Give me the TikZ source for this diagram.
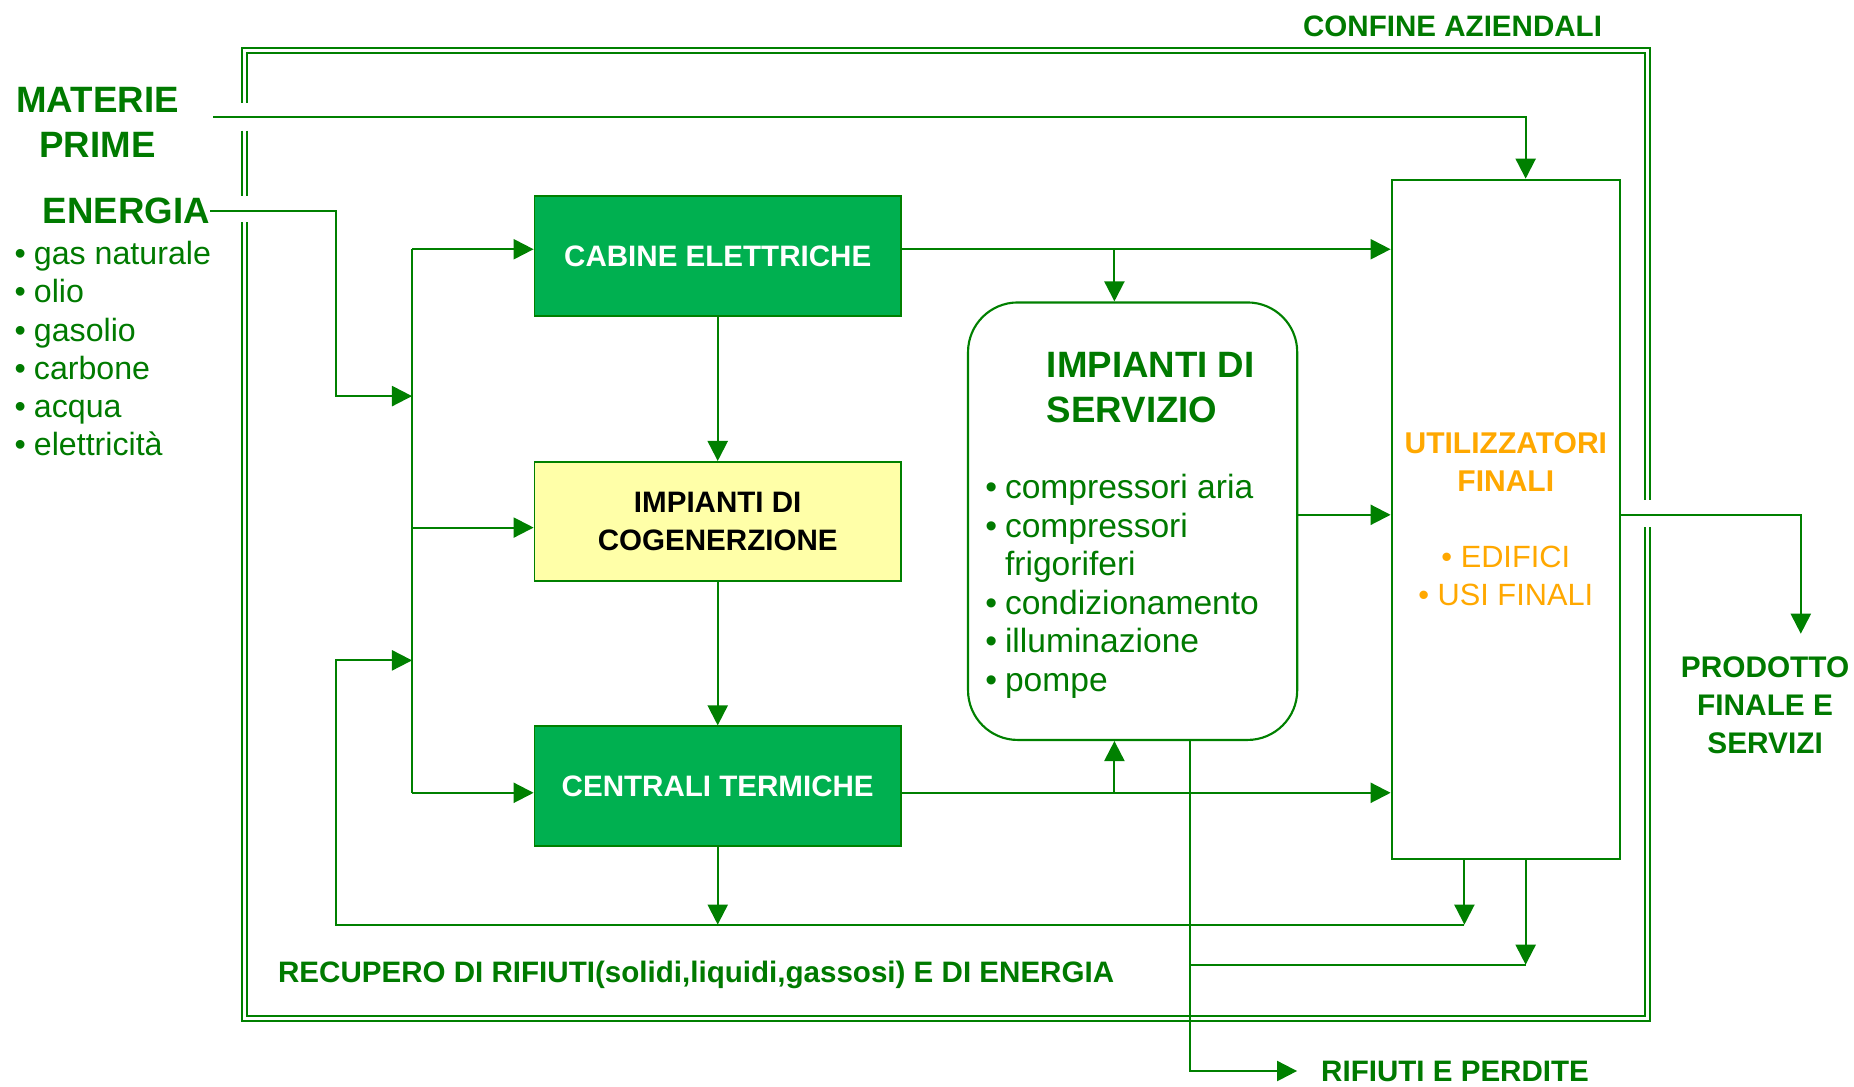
\documentclass[tikz,border=0pt]{standalone}
\usepackage{fontspec}
\setmainfont{Liberation Sans}
\usetikzlibrary{arrows.meta,calc}
\definecolor{lg}{HTML}{008000}
\definecolor{tg}{HTML}{007A00}
\definecolor{boxg}{HTML}{00B050}
\definecolor{boxy}{HTML}{FFFFA8}
\definecolor{org}{HTML}{FFA800}
\newcommand\mybul[1]{\makebox[#1][l]{\textbullet}}
\tikzset{
  ln/.style={draw=lg, line width=0.9pt},
  arr/.style={ln, -{Triangle[length=8.5pt,width=8.5pt]}},
  fr/.style={draw=lg, line width=0.8pt},
  bt/.style={text=tg, inner sep=0pt, font=\bfseries\fontsize{12.5}{16}\selectfont},
  big/.style={text=tg, inner sep=0pt, font=\bfseries\fontsize{15.5}{18.7}\selectfont},
  lst/.style={text=tg, inner sep=0pt, anchor=base west, font=\fontsize{13.6}{16}\selectfont},
  slst/.style={text=tg, inner sep=0pt, anchor=base west, font=\fontsize{14.2}{16}\selectfont},
  gbox/.style={draw=lg, line width=0.7pt, fill=boxg, text=white, minimum width=155pt, minimum height=50.6pt, inner sep=0pt, font=\bfseries\fontsize{12.5}{16}\selectfont},
  ybox/.style={draw=lg, line width=0.7pt, fill=boxy, text=black, minimum width=155pt, minimum height=50.4pt, inner sep=0pt, align=center, font=\bfseries\fontsize{12.5}{16}\selectfont},
  otxt/.style={text=org, inner sep=0pt, align=center},
}
\begin{document}
\begin{tikzpicture}[x=0.5pt,y=-0.5pt]
\useasboundingbox (0,0) rectangle (1568,919);

% frame (double line)
\draw[fr] (204.3,87) -- (204.3,40.3) -- (1395.5,40.3) -- (1395.5,423)
          (1395.5,446) -- (1395.5,863.3) -- (204.3,863.3) -- (204.3,188)
          (204.3,110.5) -- (204.3,165.8);
\draw[fr] (208.8,87) -- (208.8,44.5) -- (1391,44.5) -- (1391,423)
          (1391,446) -- (1391,859.4) -- (208.8,859.4) -- (208.8,188)
          (208.8,110.5) -- (208.8,165.8);

% labels outside
\node[bt] (conf) at (1228.5,22.5) {CONFINE AZIENDALI};
\node[big, align=center] (mat) at (82.5,103.5) {MATERIE\\PRIME};
\node[big] (ene) at (106.7,178.5) {ENERGIA};
\node[lst] (l1) at (12,224) {\mybul{8.15pt}gas naturale};
\node[lst] (l2) at (12,256.2) {\mybul{8.15pt}olio};
\node[lst] (l3) at (12,288.4) {\mybul{8.15pt}gasolio};
\node[lst] (l4) at (12,320.6) {\mybul{8.15pt}carbone};
\node[lst] (l5) at (12,352.8) {\mybul{8.15pt}acqua};
\node[lst] (l6) at (12,385) {\mybul{8.15pt}elettricità};

% boxes
\node[gbox] (cab) at (607,216.4) {CABINE ELETTRICHE};
\node[ybox] (cog) at (607,441) {IMPIANTI DI\\COGENERZIONE};
\node[gbox] (cen) at (607,664.8) {CENTRALI TERMICHE};

\node[draw=lg, line width=0.9pt, rounded corners=21pt, fill=white,
      minimum width=139.2pt, minimum height=185pt] (ser) at (957.9,440.8) {};
\node[big, anchor=west] (st1) at (885,309) {IMPIANTI DI};
\node[big, anchor=west] (st2) at (885,346.6) {SERVIZIO};
\node[slst] (s1) at (833,422) {\mybul{8.3pt}compressori aria};
\node[slst] (s2) at (833,454.5) {\mybul{8.3pt}compressori};
\node[slst] (s3) at (849.6,487) {frigoriferi};
\node[slst] (s4) at (833,519.5) {\mybul{8.3pt}condizionamento};
\node[slst] (s5) at (833,552) {\mybul{8.3pt}illuminazione};
\node[slst] (s6) at (833,584.5) {\mybul{8.3pt}pompe};

\node[draw=lg, line width=0.9pt, fill=white, minimum width=96.5pt, minimum height=287.4pt, inner sep=0pt] (uti) at (1273.5,439.4) {};
\node[otxt, font=\bfseries\fontsize{12.7}{16.25}\selectfont] (ut1) at (1273.5,390.8) {UTILIZZATORI\\FINALI};
\node[otxt, font=\fontsize{13}{16}\selectfont] (ut2) at (1273.5,471.4) {\textbullet\ EDIFICI};
\node[otxt, font=\fontsize{13}{16}\selectfont] (ut3) at (1273.5,503.5) {\textbullet\ USI FINALI};

\node[bt, align=center, font=\bfseries\fontsize{12.6}{16.2}\selectfont] (prod) at (1492.8,596.3) {PRODOTTO\\FINALE E\\SERVIZI};
\node[bt, anchor=base west] (rec) at (234.8,831) {RECUPERO DI RIFIUTI(solidi,liquidi,gassosi) E DI ENERGIA};
\node[bt, anchor=west] (rif) at (1117,906) {RIFIUTI E PERDITE};

% coordinates
\coordinate (m0) at (180.5,98.7);
\coordinate (mx) at (1290.3,0);
\coordinate (e1) at (284,335);
\coordinate (bt) at (348.5,210.8);
\coordinate (bm) at (348.5,446.2);
\coordinate (bb) at (348.5,670.5);
\coordinate (r1) at (284,558.5);
\coordinate (ub1) at (1238.5,782);
\coordinate (ub2) at (1290.3,815.9);
\coordinate (sx) at (942.5,0);
\coordinate (sy) at (0,435.4);
\coordinate (wx) at (1006.4,905.8);
\coordinate (wend) at (1097,905.8);
\coordinate (px) at (1523,536);

% connectors
\draw[arr] (m0) -| (uti.north -| mx);
\draw[arr] (ene.east) -| (e1) -- (e1 -| bt);
\draw[ln] (bt) -- (bb);
\draw[arr] (bt) -- (bt -| cab.west);
\draw[arr] (bm) -- (bm -| cog.west);
\draw[arr] (bb) -- (bb -| cen.west);
\draw[arr] (cab.south) -- (cog.north);
\draw[arr] (cog.south) -- (cen.north);
\draw[arr] (cab.east |- bt) -- (uti.west |- bt);
\draw[arr] (sx |- bt) -- (sx |- ser.north);
\draw[arr] (ser.east |- sy) -- (uti.west |- sy);
\draw[arr] (cen.east |- bb) -- (uti.west |- bb);
\draw[arr] (sx |- bb) -- (sx |- ser.south);
\draw[arr] (uti.south -| ub1) -- (ub1);
\draw[arr] (uti.south -| ub2) -- (ub2);
\draw[arr] (ub1) -| (r1) -- (r1 -| bt);
\draw[arr] (cen.south) -- (cen.south |- ub1);
\draw[arr] (ser.south -| wx) -- (wx) -- (wend);
\draw[ln] (wx |- ub2) -- (ub2);
\draw[arr] (uti.east |- sy) -| (px);
\end{tikzpicture}
\end{document}
